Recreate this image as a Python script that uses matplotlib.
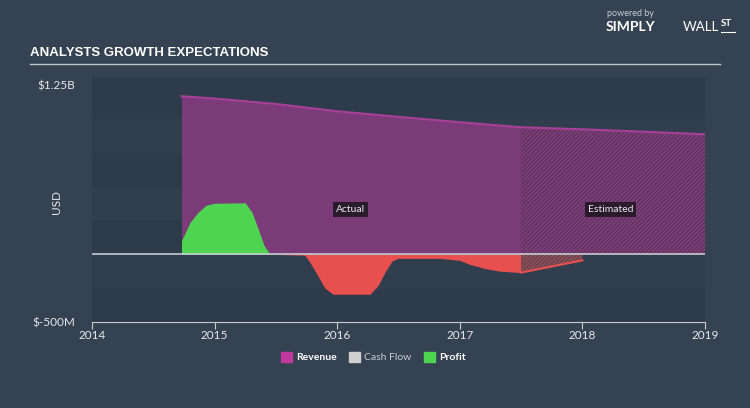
import matplotlib
matplotlib.use("Agg")
import matplotlib.pyplot as plt
import numpy as np

# ---- data (USD millions) ----
rev_x = [2014.73, 2015.0, 2015.5, 2016.0, 2016.5, 2017.0, 2017.5, 2018.0, 2018.5, 2019.0]
rev_y = [1167, 1150, 1110, 1056, 1015, 975, 938, 923, 905, 886]

profit_x = [2014.73, 2014.80, 2014.865, 2014.93, 2015.0, 2015.25, 2015.305, 2015.354,
            2015.403, 2015.452, 2015.737, 2015.778, 2015.843, 2015.90, 2015.966, 2016.268,
            2016.333, 2016.398, 2016.447, 2016.496, 2016.838, 2017.0, 2017.083, 2017.205,
            2017.328, 2017.5]
profit_y = [100, 236, 310, 362, 377, 380, 310, 192, 66, 0, -7, -60, -160, -250, -295, -295,
            -230, -120, -50, -30, -30, -45, -75, -105, -125, -135]

est_profit_x = [2017.5, 2018.0]
est_profit_y = [-135, -45]

split_year = 2017.5
xticks = [2014, 2015, 2016, 2017, 2018, 2019]
ytick_vals = [-500, 1250]
ytick_labels = ["$-500M", "$1.25B"]
legend_labels = ["Revenue", "Cash Flow", "Profit"]

BG = "#344251"
PLOT_BG = "#2e3b4a"
BAND = "#313e4d"
REV = "#7b3a78"
REV_LINE = "#a8409a"
GREEN = "#4fd451"
RED = "#e8504f"
TXT = "#e6e9ec"
FONT = ["Lato", "DejaVu Sans"]
plt.rcParams["font.family"] = FONT

fig = plt.figure(figsize=(7.5, 4.08), dpi=100, facecolor=BG)
top_px = 77
ymax = 1250 + (85 - top_px) / 0.1354
ax = fig.add_axes([92/750, 1-322/408, (705-92)/750, (322-top_px)/408])
ax.set_facecolor(PLOT_BG)
ax.set_xlim(2014, 2019)
ax.set_ylim(-500, ymax)

# subtle bands
for i, lo in enumerate(np.arange(-500, 1250, 250)):
    if i % 2 == 1:
        ax.axhspan(lo, lo + 250, color=BAND, zorder=0, lw=0)

rx = np.array(rev_x); ry = np.array(rev_y)
act = rx <= split_year
est = rx >= split_year
ax.fill_between(rx[act], 0, ry[act], color=REV, lw=0, zorder=2)
plt.rcParams["hatch.linewidth"] = 0.6
ax.fill_between(rx[est], 0, ry[est], facecolor="#663364", edgecolor="#8a4a85",
                hatch="////////", lw=0, zorder=2)
ax.plot(rx, ry, color=REV_LINE, lw=1.5, zorder=3)

px = np.array(profit_x); py = np.array(profit_y)
ax.fill_between(px, 0, py, where=py >= 0, interpolate=True, color=GREEN, lw=0, zorder=4)
ax.fill_between(px, 0, py, where=py <= 0, interpolate=True, color=RED, lw=0, zorder=4)
ex = np.array(est_profit_x); ey = np.array(est_profit_y)
ax.fill_between(ex, 0, ey, facecolor="#6e4450", edgecolor="#a0585c", hatch="////////",
                lw=0, zorder=4)
ax.plot(ex, ey, color=RED, lw=1.5, zorder=5)

ax.axhline(0, color="#c8ccd2", lw=1.2, zorder=6)

ax.text(2016.11, 330, "Actual", color=TXT, fontsize=7.5, ha="center", va="center", zorder=7,
        bbox=dict(boxstyle="square,pad=0.3", fc="#2b1a2c", ec="none"))
ax.text(2018.23, 330, "Estimated", color=TXT, fontsize=7.5, ha="center", va="center", zorder=7,
        bbox=dict(boxstyle="square,pad=0.3", fc="#2b1a2c", ec="none"))

for s in ["top", "right", "left"]:
    ax.spines[s].set_visible(False)
ax.spines["bottom"].set_color("#c8ccd2")
ax.set_xticks(xticks)
ax.set_xticklabels([str(t) for t in xticks], fontsize=8.5)
ax.tick_params(axis="x", colors="#c8ccd2", length=5, pad=1, labelcolor=TXT)
ax.set_yticks(ytick_vals)
ax.set_yticklabels(ytick_labels, fontsize=8.5)
ax.tick_params(axis="y", length=0, pad=12, labelcolor=TXT)
ax.set_ylabel("USD", color=TXT, fontsize=8.5)
ax.yaxis.set_label_coords((62-92)/613, 0.49)

# title + rule
fig.text(30/750, 1-53/408, "ANALYSTS GROWTH EXPECTATIONS", color="white", fontsize=9.5,
         fontweight="bold", fontstretch="condensed",
         family=["Liberation Sans Narrow", "Liberation Sans", "DejaVu Sans"], va="center")
fig.add_artist(plt.Line2D([30/750, 720/750], [1-64/408, 1-64/408], color="#c0c6cc", lw=1))

# branding
fig.text(607/750, 1-14/408, "powered by", color="#c8ccd2", fontsize=6.5, va="center")
fig.text(606/750, 1-27/408, "SIMPLY", color="white", fontsize=10, fontweight="bold", va="center")
fig.text(683/750, 1-27/408, "WALL", color="white", fontsize=9.5, va="center")
fig.text(721/750, 1-24/408, "ST", color="white", fontsize=7, fontweight="bold", va="center")
fig.add_artist(plt.Line2D([721/750, 735/750], [1-31.5/408, 1-31.5/408], color="white", lw=0.8))

# legend
leg_y = 1-357/408
items = [(281, "#c0399f", legend_labels[0], "white", "bold"),
         (349, "#d0d0d0", legend_labels[1], "#c8ccd2", "normal"),
         (424, GREEN, legend_labels[2], "white", "bold")]
for xpx, c, lab, tc, fw in items:
    fig.patches.append(plt.Rectangle((xpx/750, leg_y-5/408), 11/750, 10/408, color=c,
                                     transform=fig.transFigure, figure=fig))
    fig.text((xpx+15)/750, leg_y, lab, color=tc, fontsize=7.5, fontweight=fw, va="center")

fig.savefig("out.png", dpi=100, facecolor=BG)
